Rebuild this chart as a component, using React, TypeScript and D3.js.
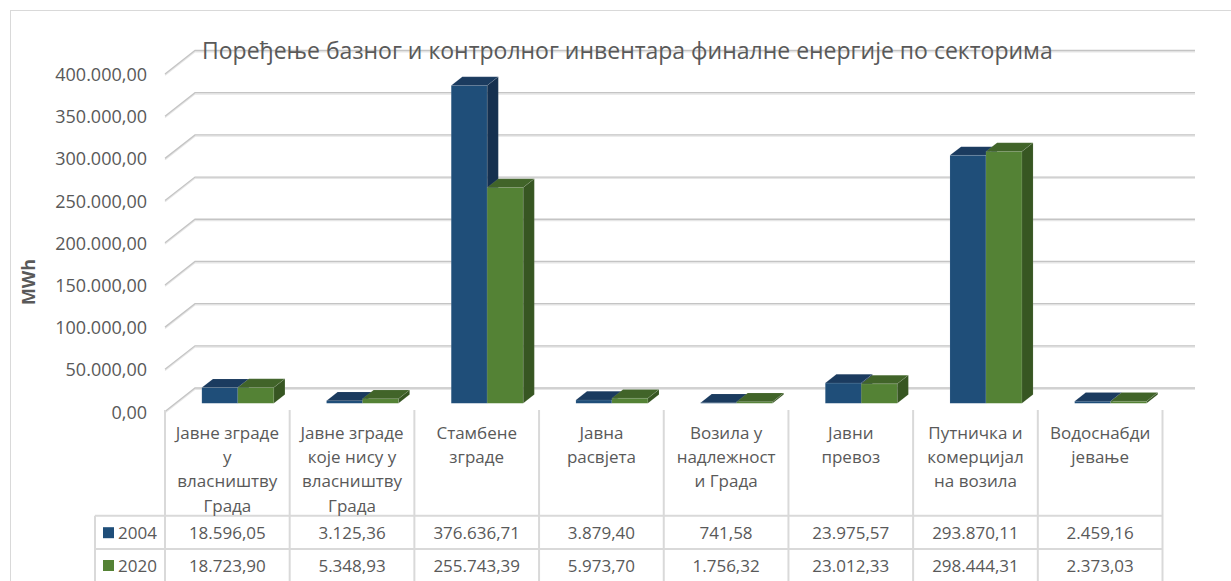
import React from 'react';
import * as d3 from 'd3';

const categories = [
  'Јавне зграде\nу\nвласништву\nГрада',
  'Јавне зграде\nкоје нису у\nвласништву\nГрада',
  'Стамбене\nзграде',
  'Јавна\nрасвјета',
  'Возила у\nнадлежност\nи Града',
  'Јавни\nпревоз',
  'Путничка и\nкомерцијал\nна возила',
  'Водоснабди\nјевање',
];
const seriesNames = ['2004', '2020'];
const values2004 = [18596.05, 3125.36, 376636.71, 3879.4, 741.58, 23975.57, 293870.11, 2459.16];
const values2020 = [18723.9, 5348.93, 255743.39, 5973.7, 1756.32, 23012.33, 298444.31, 2373.03];
const yTicks = [0, 50000, 100000, 150000, 200000, 250000, 300000, 350000, 400000];

const title = 'Поређење базног и контролног инвентара финалне енергије по секторима';

const W = 1231;
const H = 581;
const FONT = '"Open Sans", sans-serif';
const TXT = '#595959';
const GRID = '#d9d9d9';

// 3d depth of the plot box
const DX = 30;
const DY = -23.5;
const T0 = 0.35;
const T1 = 0.72;

const colors = [
  { front: '#1f4e79', top: '#1b3b5f', side: '#15304f' },
  { front: '#548235', top: '#416429', side: '#375622' },
];

const loc = d3.formatLocale({ decimal: ',', thousands: '.', grouping: [3], currency: ['', ''] });
const fmt = loc.format(',.2f');

export default function App() {
  const x = d3.scaleBand<string>().domain(categories).range([165, 1162.5]);
  const y = d3.scaleLinear().domain([0, 400000]).range([411.5, 74]);
  const barW = 36;
  const inner = d3.scaleBand<string>()
    .domain(seriesNames)
    .range([x.bandwidth() / 2 - barW, x.bandwidth() / 2 + barW]);

  const series = [values2004, values2020];
  const dx = (T1 - T0) * DX;
  const dy = (T1 - T0) * DY;

  const tableTop = 410;
  const row1 = 515.7;
  const row2 = 549;
  const tableBottom = 583;

  return (
    <svg width={W} height={H} style={{ position: 'absolute', left: 0, top: 0, background: '#fff' }}
      fontFamily={FONT}>
      <rect x={10.5} y={10.5} width={W + 20} height={H + 20} fill="#fff" stroke={GRID} />

      {/* gridlines: left wall diagonal + back wall horizontal */}
      {yTicks.map(t => {
        const yf = y(t);
        const p = `M165,${yf} L${165 + DX},${yf + DY} L1195,${yf + DY}`;
        return (
          <g key={t}>
            <path d={p} fill="none" stroke="#e6e6e6" strokeWidth={1.3} transform="translate(0,1.3)" />
            <path d={p} fill="none" stroke="#c4c4c4" strokeWidth={1.3} />
          </g>
        );
      })}

      {/* y tick labels */}
      {yTicks.map(t => (
        <text key={t} x={147} y={y(t)} textAnchor="end" dominantBaseline="central"
          fontSize={18} fill={TXT}>{fmt(t)}</text>
      ))}

      <text transform="translate(28,282) rotate(-90)" textAnchor="middle" dominantBaseline="central"
        fontSize={18} fontWeight="bold" fill={TXT}>MWh</text>

      <text x={202} y={50} dominantBaseline="central" fontSize={23} fill={TXT}>{title}</text>

      {/* bars */}
      {categories.map((c, i) => (
        <g key={c}>
          {series.map((vals, s) => {
            const fx = (x(c) as number) + (inner(seriesNames[s]) as number) + T0 * DX;
            const fy0 = y(0) + T0 * DY;
            const fy1 = y(vals[i]) + T0 * DY;
            const col = colors[s];
            const top = `M${fx},${fy1} L${fx + barW},${fy1} L${fx + barW + dx},${fy1 + dy} L${fx + dx},${fy1 + dy} Z`;
            const side = `M${fx + barW},${fy1} L${fx + barW + dx},${fy1 + dy} L${fx + barW + dx},${fy0 + dy} L${fx + barW},${fy0} Z`;
            return (
              <g key={s} stroke="rgba(255,255,255,0.15)" strokeWidth={0.6}>
                <rect x={fx} y={fy1} width={barW} height={fy0 - fy1} fill={col.front} />
                <path d={top} fill={col.top} />
                <path d={side} fill={col.side} />
              </g>
            );
          })}
        </g>
      ))}

      {/* data table */}
      <g stroke={GRID} strokeWidth={2}>
        {d3.range(categories.length + 1).map(k => {
          const xx = 165 + k * x.step();
          return <line key={k} x1={xx} x2={xx} y1={tableTop} y2={tableBottom} />;
        })}
        <line x1={95} x2={95} y1={row1} y2={tableBottom} />
        {[row1, row2, tableBottom - 1].map(r => (
          <line key={r} x1={95} x2={165 + categories.length * x.step()} y1={r} y2={r} />
        ))}
      </g>

      {categories.map(c => {
        const cx = (x(c) as number) + x.bandwidth() / 2;
        return (
          <text key={c} textAnchor="middle" fontSize={17} fill={TXT}>
            {c.split('\n').map((ln, j) => (
              <tspan key={j} x={cx} y={432 + j * 24.4} dominantBaseline="central">{ln}</tspan>
            ))}
          </text>
        );
      })}

      {series.map((vals, s) => {
        const cy = s === 0 ? 532.7 : 565.5;
        return (
          <g key={s}>
            <rect x={103} y={cy - 5.5} width={11} height={11} fill={colors[s].front} />
            <text x={118} y={cy} dominantBaseline="central" fontSize={17} fill={TXT}>{seriesNames[s]}</text>
            {vals.map((v, i) => (
              <text key={i} x={(x(categories[i]) as number) + x.bandwidth() / 2} y={cy}
                textAnchor="middle" dominantBaseline="central" fontSize={17} fill={TXT}>{fmt(v)}</text>
            ))}
          </g>
        );
      })}
    </svg>
  );
}
